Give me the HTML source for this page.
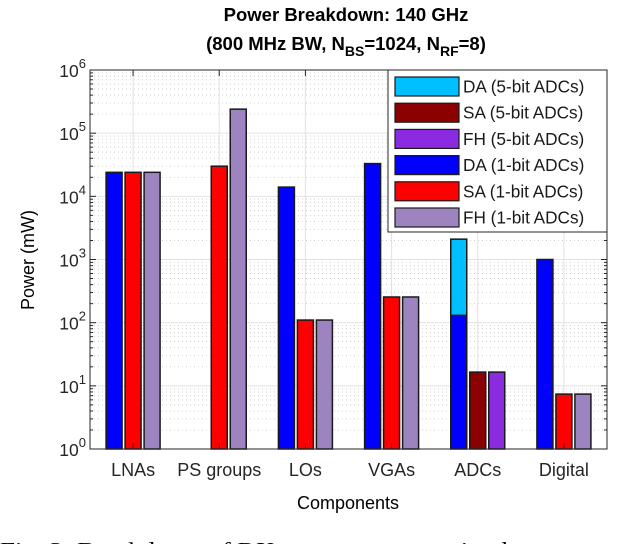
<!DOCTYPE html>
<html><head><meta charset="utf-8"><style>
body{margin:0;background:#fff;width:640px;height:544px;overflow:hidden}
text{font-family:"Liberation Sans",sans-serif}
</style></head><body>
<svg id="chart" width="640" height="544" xmlns="http://www.w3.org/2000/svg">
<g id="grid"></g>
<g id="bars"></g>
<rect x="90" y="70" width="517" height="379" fill="none" stroke="#262626" stroke-width="1"/>
<g id="axes"></g>
<text x="346" y="21" text-anchor="middle" font-size="18.5" font-weight="bold">Power Breakdown: 140 GHz</text>
<text x="346" y="50" text-anchor="middle" font-size="18.5" font-weight="bold">(800 MHz BW, N<tspan font-size="14" dy="6">BS</tspan><tspan dy="-6">=1024, N</tspan><tspan font-size="14" dy="6">RF</tspan><tspan dy="-6">=8)</tspan></text>
<text transform="translate(34,260) rotate(-90)" text-anchor="middle" font-size="18">Power (mW)</text>
<text x="348" y="509" text-anchor="middle" font-size="18">Components</text>
<g id="legend"></g>
<text x="0" y="557" font-size="21" textLength="648" lengthAdjust="spacingAndGlyphs" style="font-family:'Liberation Serif',serif">Fig. 2: Breakdown of RX power consumption by componen</text>
</svg>
<script>
const categories=["LNAs","PS groups","LOs","VGAs","ADCs","Digital"];
const da1=[24000,0,14000,33000,130,1000];
const sa1=[24000,30000,110,255,0,7.4];
const fh1=[24000,240000,110,255,0,7.4];
const da5=[0,0,0,0,2100,0];
const sa5=[0,0,0,0,16.5,0];
const fh5=[0,0,0,0,16.5,0];
const yTicks=[0,1,2,3,4,5,6];
const legendLabels=["DA (5-bit ADCs)","SA (5-bit ADCs)","FH (5-bit ADCs)","DA (1-bit ADCs)","SA (1-bit ADCs)","FH (1-bit ADCs)"];
const legendColors=["#00BFFF","#8B0000","#8A2BE2","#0000FF","#FF0000","#9D84C0"];

const NS="http://www.w3.org/2000/svg";
const L=90,R=607,T=70,B=449;
const xs=i=>L+(R-L)/6*(i+0.5);
const ys=v=>B-(Math.log10(v))*(B-T)/6;
function mk(p,tag,a){const e=document.createElementNS(NS,tag);for(const k in a)e.setAttribute(k,a[k]);p.appendChild(e);return e;}
const grid=document.getElementById('grid'),bars=document.getElementById('bars'),axes=document.getElementById('axes'),leg=document.getElementById('legend');
for(let d=0;d<6;d++)for(let m=2;m<10;m++){const y=ys(m*Math.pow(10,d));
 const l=mk(grid,'line',{x1:L,x2:R,y1:y,y2:y,stroke:'#d0d0d0','stroke-dasharray':'1,3'});
 
 mk(axes,'line',{x1:L,x2:L+3,y1:y,y2:y,stroke:'#262626'});mk(axes,'line',{x1:R,x2:R-3,y1:y,y2:y,stroke:'#262626'});}
yTicks.forEach(t=>{const y=ys(Math.pow(10,t));
 const l=mk(grid,'line',{x1:L,x2:R,y1:y,y2:y,stroke:'#e2e2e2'});
 
 mk(axes,'line',{x1:L,x2:L+6,y1:y,y2:y,stroke:'#262626'});mk(axes,'line',{x1:R,x2:R-6,y1:y,y2:y,stroke:'#262626'});
 const tx=mk(axes,'text',{x:L-4,y:y+7,'text-anchor':'end','font-size':17.5,fill:'#262626'});
 
 tx.innerHTML='10<tspan font-size="13" dy="-9">'+t+'</tspan>';});
categories.forEach((c,i)=>{const x=xs(i);
 const l=mk(grid,'line',{x1:x,x2:x,y1:T,y2:B,stroke:'#e2e2e2'});
 
 mk(axes,'line',{x1:x,x2:x,y1:B,y2:B-6,stroke:'#262626'});mk(axes,'line',{x1:x,x2:x,y1:T,y2:T+6,stroke:'#262626'});
 const tx=mk(axes,'text',{x:x,y:B+27,'text-anchor':'middle','font-size':18,fill:'#262626'});
 
 tx.textContent=c;});
const W=16,off=[-19,0,19];
function bar(v,base,i,k,col,name){if(!v)return;const x=xs(i)+off[k]-W/2;const y0=ys(base>1?base:1),y1=ys(v);
 const r=mk(bars,'rect',{x:x,y:y1,width:W,height:y0-y1,fill:col,stroke:'#1a1a1a','stroke-width':1.5});
 }
categories.forEach((c,i)=>{
 bar(da5[i],da1[i],i,0,legendColors[0],'bar-da-5bit');
 bar(da1[i],1,i,0,legendColors[3],'bar-da-1bit');
 bar(sa5[i],1,i,1,legendColors[1],'bar-sa-5bit');
 bar(sa1[i],1,i,1,legendColors[4],'bar-sa-1bit');
 bar(fh5[i],1,i,2,legendColors[2],'bar-fh-5bit');
 bar(fh1[i],1,i,2,legendColors[5],'bar-fh-1bit');});
const lb=mk(leg,'rect',{x:388,y:70,width:219,height:162,fill:'#fff',stroke:'#262626'});

legendLabels.forEach((t,j)=>{const y=86+j*26.2;
 const s=mk(leg,'rect',{x:395,y:y-9,width:64,height:19,fill:legendColors[j],stroke:'#1a1a1a','stroke-width':1.2});
 
 const tx=mk(leg,'text',{x:463,y:y+6.5,'font-size':17.2,fill:'#1a1a1a'});
 
 tx.textContent=t;});
</script>
</body></html>
